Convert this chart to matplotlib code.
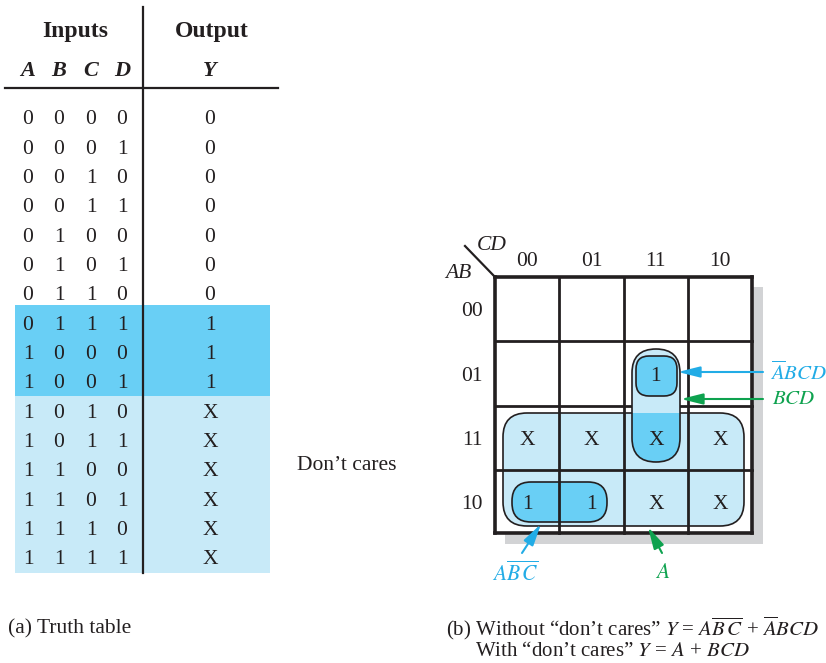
import matplotlib
matplotlib.use("Agg")
import matplotlib.pyplot as plt
from matplotlib.patches import FancyBboxPatch, Rectangle

plt.rcParams['font.family'] = ['Liberation Serif', 'DejaVu Serif']
plt.rcParams['mathtext.fontset'] = 'stix'

# truth table
inputs = ["0000", "0001", "0010", "0011", "0100", "0101", "0110", "0111",
          "1000", "1001", "1010", "1011", "1100", "1101", "1110", "1111"]
outputs = ["0", "0", "0", "0", "0", "0", "0", "1",
           "1", "1", "X", "X", "X", "X", "X", "X"]
input_names = ["A", "B", "C", "D"]

# K-map (rows AB, columns CD in Gray order)
gray = ["00", "01", "11", "10"]
kmap = [["", "", "", ""],
        ["", "", "1", ""],
        ["X", "X", "X", "X"],
        ["1", "1", "X", "X"]]

TXT = '#231f20'
DARK = '#69cff5'
LIGHT = '#c8eaf8'
BLUE = '#22acE6'
GREEN = '#0ea24f'
FS = 15.5
DY = 3  # text centre offset (font's descent pushes va='center' up)

fig = plt.figure(figsize=(8.26, 6.63), dpi=100)
ax = fig.add_axes([0, 0, 1, 1])
ax.set_xlim(0, 826)
ax.set_ylim(663, 0)
ax.axis('off')

def txt(x, y, s, ha='center', **kw):
    kw.setdefault('fontsize', FS)
    kw.setdefault('color', TXT)
    ax.text(x, y + DY, s, ha=ha, va='center', **kw)

# ---- (a) truth table ----
row_y0, row_dy = 117, 29.33
col_x = [28, 59, 91, 122]
out_x = 210
ax.add_patch(Rectangle((15, 305), 255, 91, color=DARK, lw=0))
ax.add_patch(Rectangle((15, 396), 255, 177, color=LIGHT, lw=0))
ax.plot([143, 143], [7, 573], color=TXT, lw=1.6)
ax.plot([5, 278], [88, 88], color=TXT, lw=1.6)
txt(75, 28, "Inputs", fontsize=17, fontweight='bold')
txt(212, 28, "Output", fontsize=17, fontweight='bold')
for x, name in zip(col_x, input_names):
    txt(x, 68, name, fontsize=16, fontweight='bold', style='italic')
txt(out_x, 68, "Y", fontsize=16, fontweight='bold', style='italic')
for i, (bits, out) in enumerate(zip(inputs, outputs)):
    y = row_y0 + i * row_dy
    for x, b in zip(col_x, bits):
        txt(x, y, b)
    txt(out_x, y, out)
txt(347, 462, "Don’t cares")
txt(8, 626, "(a) Truth table", ha='left')

# ---- (b) K-map ----
gx = [495, 559.3, 623.7, 688, 752]
gy = [277, 341, 405.5, 469.5, 533]
ax.add_patch(Rectangle((505, 287), 258, 257, color='#d2d3d5', lw=0))
ax.add_patch(Rectangle((495, 277), 257, 256, color='white', lw=0))

def rbox(x0, y0, x1, y1, r, fc, ec=TXT, lw=1.2, z=2):
    p = FancyBboxPatch((x0, y0), x1 - x0, y1 - y0,
                       boxstyle=f"round,pad=0,rounding_size={r}",
                       fc=fc, ec=ec, lw=lw, zorder=z)
    ax.add_patch(p)
    return p

group_a = rbox(503, 413, 744, 526, 24, LIGHT, z=2)
rbox(512, 482, 607, 522, 19, DARK, z=2.1)

for x in gx:
    lw = 2.6 if x in (gx[0], gx[-1]) else 2.0
    ax.plot([x, x], [gy[0], gy[-1]], color=TXT, lw=lw, zorder=3)
for y in gy:
    lw = 2.6 if y in (gy[0], gy[-1]) else 2.0
    ax.plot([gx[0], gx[-1]], [y, y], color=TXT, lw=lw, zorder=3)

# BCD pill, darker where it overlaps group A
rbox(632, 349, 680, 462, 24, LIGHT, ec='none', z=4)
overlap = rbox(632, 349, 680, 462, 24, DARK, ec='none', z=4.1)
overlap.set_clip_path(group_a)
rbox(632, 349, 680, 462, 24, 'none', z=4.2)
rbox(636, 356, 677, 396, 13, DARK, z=4.3)

ax.plot([465, 495], [246, 277], color=TXT, lw=1.6, zorder=3)
txt(492, 242, "CD", style='italic')
txt(458, 270, "AB", style='italic')
for j, g in enumerate(gray):
    txt((gx[j] + gx[j + 1]) / 2, 259, g)
for i, g in enumerate(gray):
    cy = (gy[i] + gy[i + 1]) / 2
    txt(472, cy, g)
    for j, v in enumerate(kmap[i]):
        if v:
            txt((gx[j] + gx[j + 1]) / 2, cy, v, zorder=5)

def arrow(tail, head, color):
    ax.annotate('', xy=head, xytext=tail, zorder=6,
                arrowprops=dict(arrowstyle='-|>,head_length=1.2,head_width=0.3',
                                color=color, lw=1.5, mutation_scale=11,
                                shrinkA=0, shrinkB=0))

arrow((763, 372), (678, 372), BLUE)
arrow((763, 399), (681, 399), GREEN)
arrow((522, 553), (541, 524), BLUE)
arrow((662, 553), (648, 527), GREEN)
txt(770, 370, r"$\overline{A}BCD$", ha='left', color=BLUE, fontsize=15)
txt(772, 396, r"$BCD$", ha='left', color=GREEN, fontsize=15)
txt(515, 571, r"$A\overline{B}\,\overline{C}$", color=BLUE)
txt(663, 571, r"$A$", color=GREEN)

txt(446, 625, r"(b) Without “don’t cares” $Y$ = $A\overline{B}\,\overline{C}$ + $\overline{A}BCD$",
    ha='left', fontsize=15)
txt(475, 649, r"With “don’t cares” $Y$ = $A$ + $BCD$", ha='left', fontsize=15)

fig.savefig("out.png", dpi=100)
